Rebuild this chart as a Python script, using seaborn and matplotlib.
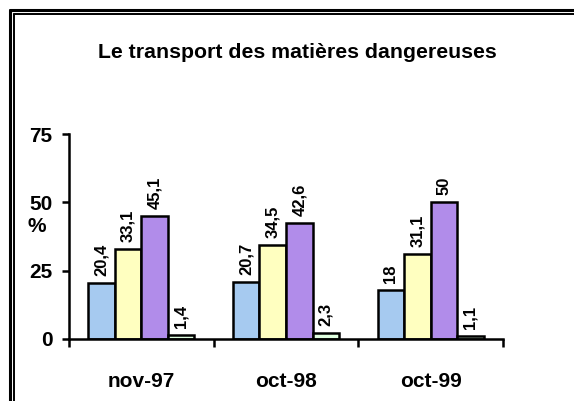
import pandas as pd
import matplotlib.pyplot as plt
import seaborn as sns
from matplotlib.lines import Line2D

# data
periods = ['nov-97', 'oct-98', 'oct-99']
serie1 = [20.4, 20.7, 18]
serie2 = [33.1, 34.5, 31.1]
serie3 = [45.1, 42.6, 50]
serie4 = [1.4, 2.3, 1.1]
series_names = ['Série 1', 'Série 2', 'Série 3', 'Série 4']
colors = ['#A6CAF0', '#FFFFC0', '#B18CEA', '#E0FFE0']

rows = []
for name, vals in zip(series_names, [serie1, serie2, serie3, serie4]):
    for p, v in zip(periods, vals):
        rows.append({'periode': p, 'serie': name, 'valeur': v})
df = pd.DataFrame(rows)

sns.set_style('white')
plt.rcParams['font.family'] = ['Liberation Sans', 'DejaVu Sans']
plt.rcParams['font.weight'] = 'bold'
plt.rcParams['text.color'] = 'black'
plt.rcParams['xtick.color'] = 'black'
plt.rcParams['ytick.color'] = 'black'
plt.rcParams['axes.labelcolor'] = 'black'

fig = plt.figure(figsize=(5.74, 4.01), dpi=100)
ax = fig.add_axes([69/574, 1-339/401, 434/574, 205/401])

sns.barplot(data=df, x='periode', y='valeur', hue='serie', palette=colors,
            saturation=1, width=0.733, gap=0, edgecolor='black', linewidth=1.8,
            legend=False, ax=ax)

for cont in ax.containers:
    labs = [f'{b.get_height():g}'.replace('.', ',') for b in cont]
    ax.bar_label(cont, labels=labs, rotation=90, padding=5,
                 fontsize=12, fontweight='bold', color='black')

ax.set_xlim(-0.5, 2.5)
ax.set_ylim(0, 75)
ax.set_yticks([0, 25, 50, 75])
ax.set_xticks([0, 1, 2])
ax.set_xticks([-0.5, 0.5, 1.5, 2.5], minor=True)
ax.tick_params(axis='x', which='major', length=0, pad=24, labelsize=15)
ax.tick_params(axis='x', which='minor', length=6, width=1.8, direction='out', bottom=True)
ax.tick_params(axis='y', length=5, width=1.8, direction='out', left=True, pad=7, labelsize=15)
for lab in ax.get_xticklabels() + ax.get_yticklabels():
    lab.set_fontweight('bold')

ax.set_xlabel('')
ax.set_ylabel('%', rotation=0, fontsize=15, fontweight='bold')
ax.yaxis.set_label_coords(-0.074, 0.503)

for s in ['top', 'right']:
    ax.spines[s].set_visible(False)
for s in ['left', 'bottom']:
    ax.spines[s].set_color('black')
    ax.spines[s].set_linewidth(1.8)

fig.text(0.518, 1-52/401, 'Le transport des matières dangereuses',
         ha='center', va='center', fontsize=15.3, fontweight='bold')

# double frame around the chart
for off, lw in [(9.5, 2.2), (14, 1.4)]:
    fig.add_artist(Line2D([off/574, off/574], [0, 1-off/401], color='black', lw=lw))
    fig.add_artist(Line2D([off/574, 1], [1-off/401, 1-off/401], color='black', lw=lw))

fig.savefig('out.png', dpi=100)
